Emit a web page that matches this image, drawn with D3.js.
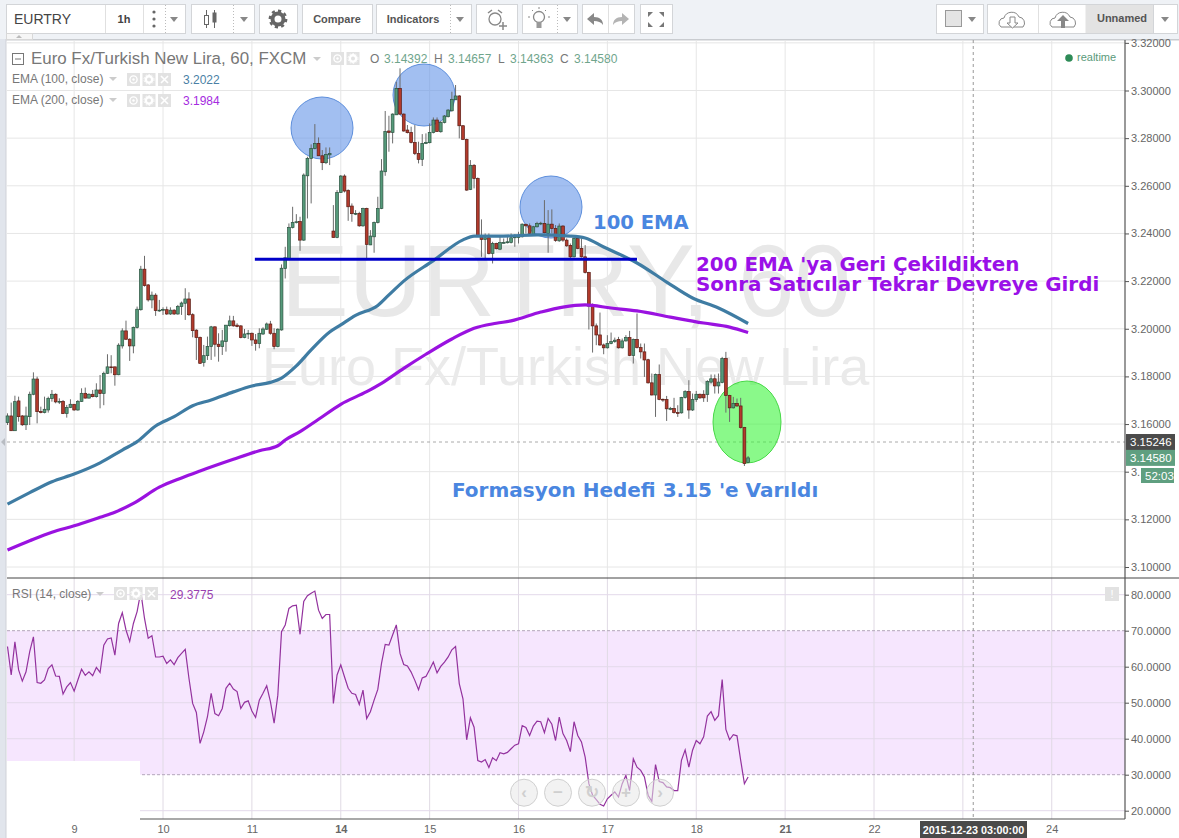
<!DOCTYPE html>
<html><head><meta charset="utf-8"><style>
html,body{margin:0;padding:0;background:#fff;overflow:hidden}
svg{display:block}
text{font-family:"Liberation Sans",Arial,sans-serif}
</style>
<script src="https://cdnjs.cloudflare.com/ajax/libs/d3/7.8.5/d3.min.js"></script></head><body>
<svg id="c" width="1179" height="838"></svg>
<script>
// open, high, low, close per hourly bar
const ohlcRows=[
[3.1606,3.1645,3.1596,3.1634],[3.1634,3.1690,3.1572,3.1572],[3.1572,3.1719,3.1572,3.1694],[3.1697,3.1715,3.1610,3.1631],[3.1634,3.1638,3.1592,3.1597],
[3.1597,3.1673,3.1575,3.1634],[3.1631,3.1736,3.1596,3.1725],[3.1725,3.1817,3.1721,3.1789],[3.1789,3.1799,3.1603,3.1652],[3.1653,3.1673,3.1645,3.1648],
[3.1648,3.1715,3.1645,3.1662],[3.1659,3.1715,3.1648,3.1708],[3.1707,3.1743,3.1694,3.1725],[3.1725,3.1729,3.1687,3.1693],[3.1694,3.1708,3.1684,3.1695],
[3.1695,3.1701,3.1642,3.1644],[3.1644,3.1680,3.1627,3.1670],[3.1670,3.1704,3.1667,3.1683],[3.1683,3.1684,3.1656,3.1659],[3.1659,3.1701,3.1656,3.1695],
[3.1695,3.1750,3.1693,3.1729],[3.1729,3.1753,3.1707,3.1709],[3.1709,3.1729,3.1707,3.1725],[3.1725,3.1743,3.1712,3.1715],[3.1715,3.1771,3.1711,3.1743],
[3.1743,3.1806,3.1666,3.1728],[3.1728,3.1820,3.1679,3.1813],[3.1813,3.1893,3.1810,3.1840],[3.1840,3.1889,3.1813,3.1838],[3.1840,3.1841,3.1761,3.1807],
[3.1807,3.1939,3.1805,3.1931],[3.1928,3.2002,3.1917,3.1991],[3.1991,3.2034,3.1953,3.1956],[3.1956,3.1960,3.1865,3.1928],[3.1928,3.2009,3.1897,3.2006],
[3.2005,3.2093,3.2001,3.2082],[3.2080,3.2264,3.2076,3.2250],[3.2250,3.2306,3.2177,3.2181],[3.2184,3.2187,3.2114,3.2121],[3.2121,3.2156,3.2086,3.2141],
[3.2141,3.2149,3.2054,3.2076],[3.2077,3.2121,3.2071,3.2078],[3.2080,3.2090,3.2058,3.2081],[3.2080,3.2093,3.2058,3.2062],[3.2062,3.2090,3.2058,3.2078],
[3.2078,3.2082,3.2058,3.2062],[3.2062,3.2100,3.2059,3.2094],[3.2093,3.2114,3.2058,3.2108],[3.2107,3.2170,3.2037,3.2125],[3.2125,3.2153,3.2054,3.2059],
[3.2059,3.2065,3.1964,3.1992],[3.1994,3.1998,3.1869,3.1963],[3.1964,3.1967,3.1852,3.1855],[3.1858,3.1932,3.1841,3.1887],[3.1887,3.1967,3.1869,3.1926],
[3.1925,3.2012,3.1869,3.2008],[3.2008,3.2010,3.1883,3.1935],[3.1935,3.1981,3.1862,3.1925],[3.1925,3.1995,3.1890,3.1949],[3.1946,3.2016,3.1904,3.2015],
[3.2013,3.2055,3.2009,3.2033],[3.2033,3.2054,3.2009,3.2012],[3.2015,3.2023,3.2006,3.2009],[3.2012,3.2015,3.1960,3.1963],[3.1963,3.1999,3.1960,3.1978],
[3.1980,3.1995,3.1957,3.1981],[3.1981,3.1984,3.1928,3.1953],[3.1953,3.1978,3.1908,3.1938],[3.1938,3.2002,3.1918,3.1981],[3.1978,3.2006,3.1974,3.1999],
[3.1998,3.2026,3.1995,3.2020],[3.2020,3.2033,3.1975,3.1981],[3.1981,3.2002,3.1914,3.1925],[3.1925,3.2002,3.1922,3.1998],[3.1995,3.2270,3.1992,3.2254],
[3.2253,3.2344,3.2211,3.2298],[3.2295,3.2442,3.2288,3.2425],[3.2425,3.2512,3.2421,3.2446],[3.2447,3.2481,3.2442,3.2449],[3.2450,3.2470,3.2327,3.2372],
[3.2372,3.2652,3.2369,3.2645],[3.2642,3.2722,3.2463,3.2715],[3.2715,3.2774,3.2526,3.2757],[3.2757,3.2859,3.2753,3.2778],[3.2778,3.2803,3.2725,3.2726],
[3.2726,3.2750,3.2666,3.2697],[3.2697,3.2761,3.2691,3.2732],[3.2730,3.2761,3.2687,3.2735],[3.2410,3.2519,3.2383,3.2383],[3.2383,3.2582,3.2380,3.2572],
[3.2572,3.2645,3.2570,3.2641],[3.2641,3.2648,3.2572,3.2578],[3.2581,3.2585,3.2453,3.2512],[3.2515,3.2526,3.2449,3.2483],[3.2483,3.2498,3.2477,3.2484],
[3.2484,3.2491,3.2428,3.2432],[3.2432,3.2508,3.2428,3.2505],[3.2505,3.2508,3.2288,3.2354],[3.2352,3.2414,3.2351,3.2389],[3.2386,3.2450,3.2319,3.2446],
[3.2446,3.2554,3.2442,3.2505],[3.2505,3.2712,3.2502,3.2662],[3.2659,3.2914,3.2642,3.2828],[3.2830,3.2894,3.2743,3.2824],[3.2824,3.2904,3.2778,3.2901],
[3.2898,3.3037,3.2897,3.3009],[3.3009,3.3093,3.2897,3.2901],[3.2901,3.2904,3.2827,3.2830],[3.2834,3.2855,3.2820,3.2823],[3.2824,3.2848,3.2778,3.2782],
[3.2782,3.2855,3.2729,3.2736],[3.2736,3.2785,3.2694,3.2711],[3.2711,3.2817,3.2683,3.2778],[3.2778,3.2820,3.2775,3.2782],[3.2781,3.2862,3.2778,3.2824],
[3.2824,3.2887,3.2820,3.2876],[3.2876,3.2887,3.2826,3.2828],[3.2827,3.2872,3.2823,3.2866],[3.2866,3.2897,3.2862,3.2893],[3.2890,3.2921,3.2887,3.2918],
[3.2915,3.2995,3.2911,3.2963],[3.2961,3.3023,3.2960,3.2977],[3.2977,3.2981,3.2799,3.2852],[3.2852,3.2855,3.2792,3.2795],[3.2795,3.2798,3.2579,3.2582],
[3.2585,3.2708,3.2582,3.2686],[3.2686,3.2691,3.2589,3.2631],[3.2631,3.2635,3.2386,3.2389],[3.2386,3.2459,3.2302,3.2375],[3.2375,3.2400,3.2288,3.2382],
[3.2382,3.2400,3.2312,3.2316],[3.2316,3.2365,3.2274,3.2358],[3.2358,3.2361,3.2333,3.2336],[3.2334,3.2386,3.2330,3.2362],[3.2361,3.2379,3.2358,3.2362],
[3.2361,3.2393,3.2358,3.2365],[3.2362,3.2400,3.2358,3.2382],[3.2382,3.2397,3.2344,3.2386],[3.2385,3.2407,3.2358,3.2386],[3.2386,3.2442,3.2383,3.2439],
[3.2438,3.2442,3.2400,3.2432],[3.2432,3.2442,3.2397,3.2400],[3.2397,3.2432,3.2393,3.2428],[3.2428,3.2449,3.2425,3.2442],[3.2442,3.2449,3.2435,3.2443],
[3.2442,3.2540,3.2400,3.2403],[3.2400,3.2498,3.2319,3.2439],[3.2439,3.2501,3.2400,3.2421],[3.2421,3.2435,3.2365,3.2371],[3.2369,3.2442,3.2365,3.2431],
[3.2431,3.2435,3.2365,3.2372],[3.2372,3.2379,3.2344,3.2348],[3.2350,3.2358,3.2295,3.2302],[3.2302,3.2383,3.2299,3.2379],[3.2379,3.2386,3.2334,3.2337],
[3.2337,3.2379,3.2299,3.2302],[3.2302,3.2351,3.2232,3.2236],[3.2236,3.2239,3.1997,3.2095],[3.2095,3.2106,3.1900,3.2012],[3.2012,3.2022,3.1931,3.1974],
[3.1974,3.2068,3.1928,3.1932],[3.1932,3.1938,3.1893,3.1920],[3.1920,3.1973,3.1917,3.1938],[3.1938,3.1984,3.1935,3.1946],[3.1946,3.1963,3.1941,3.1952],
[3.1955,3.1966,3.1917,3.1920],[3.1920,3.1959,3.1917,3.1949],[3.1949,3.1973,3.1946,3.1963],[3.1963,3.1991,3.1885,3.1888],[3.1888,3.1959,3.1854,3.1955],
[3.1955,3.2064,3.1917,3.1921],[3.1921,3.1938,3.1875,3.1903],[3.1903,3.1938,3.1798,3.1869],[3.1870,3.1874,3.1770,3.1773],[3.1773,3.1812,3.1720,3.1722],
[3.1722,3.1812,3.1630,3.1808],[3.1808,3.1850,3.1700,3.1703],[3.1704,3.1707,3.1693,3.1701],[3.1703,3.1718,3.1613,3.1664],[3.1664,3.1672,3.1658,3.1665],
[3.1665,3.1710,3.1644,3.1648],[3.1648,3.1679,3.1630,3.1645],[3.1647,3.1714,3.1644,3.1711],[3.1711,3.1742,3.1707,3.1736],[3.1736,3.1784,3.1622,3.1659],
[3.1659,3.1728,3.1655,3.1703],[3.1703,3.1739,3.1693,3.1725],[3.1725,3.1728,3.1706,3.1710],[3.1725,3.1742,3.1693,3.1710],[3.1724,3.1784,3.1693,3.1778],
[3.1776,3.1808,3.1770,3.1790],[3.1790,3.1808,3.1728,3.1760],[3.1760,3.1812,3.1728,3.1776],[3.1774,3.1882,3.1771,3.1875],[3.1875,3.1903,3.1648,3.1720],
[3.1720,3.1723,3.1609,3.1668],[3.1668,3.1714,3.1665,3.1686],[3.1686,3.1707,3.1672,3.1676],[3.1676,3.1710,3.1581,3.1585],[3.1585,3.1588,3.1424,3.1434],
[3.14392,3.14657,3.14363,3.14580]];

const ema100Bars=[0,6,12,18,25,31,35,40,45,50,55,61,66,71,74,78,82,87,90,94,100,103,107,115,123,126,134,143,152,156,161,170,178,185,192,200];
const ema100=[3.1264,3.1312,3.1358,3.1390,3.1437,3.1491,3.1526,3.1592,3.1631,3.1677,3.1701,3.1735,3.1760,3.1775,3.1793,3.1844,3.1911,3.1986,3.2016,3.2056,3.2098,3.2142,3.2200,3.2286,3.2373,3.2389,3.2389,3.2394,3.2389,3.2381,3.2343,3.2276,3.2196,3.2129,3.2087,3.2022];
const ema200Bars=[0,6,12,18,25,29,34,41,47,52,61,68,73,75,79,84,90,97,101,107,113,120,126,132,136,144,150,156,163,170,179,188,195,200];
const ema200=[3.1071,3.1110,3.1146,3.1173,3.1209,3.1230,3.1267,3.1335,3.1374,3.1403,3.1452,3.1488,3.1509,3.1533,3.1568,3.1620,3.1683,3.1736,3.1771,3.1834,3.1893,3.1957,3.2002,3.2023,3.2033,3.2070,3.2091,3.2100,3.2087,3.2075,3.2049,3.2024,3.2007,3.1984];

const rsiValues=[65.6,57.7,66.9,59.1,56.0,58.6,64.2,68.3,55.6,55.4,56.3,59.5,60.5,57.4,57.3,52.4,54.4,55.6,53.2,56.3,
59.3,57.6,58.6,57.5,59.8,58.4,66.0,67.7,68.0,63.2,72.0,75.0,70.2,67.0,72.0,75.3,80.8,73.4,67.9,68.6,
62.7,62.7,62.9,60.9,61.9,60.6,62.5,63.7,64.8,56.8,49.8,47.3,38.7,41.9,46.1,52.6,47.0,46.4,48.4,54.0,
55.4,53.8,53.1,48.4,50.1,50.5,47.7,45.9,50.7,52.6,54.7,50.3,44.3,52.1,69.7,71.6,76.2,76.9,77.1,69.0,
78.1,79.7,80.4,81.0,75.7,73.4,74.5,74.5,49.8,57.7,60.5,57.2,54.0,52.6,52.3,49.5,53.5,45.6,47.5,50.7,
53.7,60.9,66.2,66.0,68.8,71.6,63.7,60.6,60.2,58.5,56.2,53.6,56.9,57.3,59.2,61.3,58.3,60.1,61.3,62.7,
64.7,65.6,55.3,51.1,39.7,45.8,43.2,33.9,33.5,34.2,32.0,34.7,33.9,36.1,35.8,36.2,37.2,38.2,38.6,43.6,
43.1,40.9,43.5,44.9,44.7,41.7,45.6,44.0,39.5,46.0,41.4,39.5,36.4,44.7,40.9,39.1,34.9,27.5,24.3,23.1,
21.8,21.3,23.3,24.3,25.2,23.8,27.5,29.8,25.6,34.4,32.1,31.2,29.4,24.3,22.6,32.8,28.1,27.8,26.6,26.4,
25.6,25.6,34.0,36.9,32.1,36.8,39.5,38.6,40.5,46.3,47.5,45.1,46.4,56.4,42.6,39.7,41.1,40.8,34.0,27.5,29.38];

const priceTicks=[3.32,3.30,3.28,3.26,3.24,3.22,3.20,3.18,3.16,3.14,3.12,3.10];
const rsiTicks=[80,70,60,50,40,30,20];
const dayBars=[18,42,66,90,114,138,162,186,210,234,258,282];
const dayLabels=["9","10","11","14","15","16","17","18","21","22","","24"];
const boldDays=["14","21"];
const necklinePrice=3.2292, necklineBars=[66.8,170];
const crossBar=260.8, crossPrice=3.15246, lastPrice=3.14580;

const svg=d3.select("#c");
const x=d3.scaleLinear().domain([0,300]).range([7.5,7.5+3.703*300]);
const y=d3.scaleLinear().domain([3.30,3.10]).range([90.5,567]);
const r=d3.scaleLinear().domain([70,30]).range([630.7,774.7]);
const L=7,R=1125,T=40,S=578,B=819;

svg.append("rect").attr("width",1179).attr("height",838).attr("fill","#fff");
svg.append("rect").attr("width",1179).attr("height",39).attr("fill","#eff2f6");
svg.append("rect").attr("y",39).attr("width",1179).attr("height",1.5).attr("fill","#c9ccd0");
svg.append("rect").attr("y",39).attr("width",6).attr("height",799).attr("fill","#e1e5ec");
svg.append("rect").attr("x",5.5).attr("y",39).attr("width",1).attr("height",799).attr("fill","#cfd2d8");

// RSI band
svg.append("rect").attr("x",L).attr("width",R-L).attr("y",r(70)).attr("height",r(30)-r(70)).attr("fill","#f6e6fe");

// grids
const grid="#e6e6e6";
const g=svg.append("g");
g.selectAll(".v").data(dayBars).join("line").attr("x1",d=>x(d)).attr("x2",d=>x(d)).attr("y1",T).attr("y2",S).attr("stroke",grid);
g.selectAll(".v2").data(dayBars).join("line").attr("x1",d=>x(d)).attr("x2",d=>x(d)).attr("y1",S).attr("y2",B).attr("stroke","#e0dae4");
g.selectAll(".h").data(priceTicks).join("line").attr("x1",L).attr("x2",R).attr("y1",d=>y(d)).attr("y2",d=>y(d)).attr("stroke",grid);
g.selectAll(".r").data(rsiTicks.filter(d=>d!==70&&d!==30)).join("line").attr("x1",L).attr("x2",R).attr("y1",d=>r(d)).attr("y2",d=>r(d)).attr("stroke","#e3d9ea");
[70,30].forEach(v=>g.append("line").attr("x1",L).attr("x2",R).attr("y1",r(v)).attr("y2",r(v)).attr("stroke","#b3a6ba").attr("stroke-dasharray","3 2"));

// watermark
svg.append("text").attr("x",281).attr("y",316).attr("font-size",101.5).attr("fill","#e8e8e8").text("EURTRY, 60");
svg.append("text").attr("x",262).attr("y",385).attr("font-size",54).attr("fill","#eaeaea").text("Euro Fx/Turkish New Lira");

// crosshair
svg.append("line").attr("x1",x(crossBar)).attr("x2",x(crossBar)).attr("y1",T).attr("y2",B).attr("stroke","#999").attr("stroke-dasharray","3 3");
svg.append("line").attr("x1",L).attr("x2",R).attr("y1",y(crossPrice)).attr("y2",y(crossPrice)).attr("stroke","#aaa").attr("stroke-dasharray","3 3");
svg.append("path").attr("d",`M1 ${y(crossPrice)}l4-4v8z`).attr("fill","#b8bcc2");

// drawings below the candles
[[322,128,31,31],[424,95,31,31],[551,207,31,31]].forEach(c=>svg.append("ellipse").attr("cx",c[0]).attr("cy",c[1]).attr("rx",c[2]).attr("ry",c[3]).attr("fill","rgba(100,148,232,.6)").attr("stroke","#5e8fdc"));
svg.append("ellipse").attr("cx",747).attr("cy",422).attr("rx",34).attr("ry",41).attr("fill","rgba(60,245,60,.6)").attr("stroke","#48d848");

// candles
const cg=svg.append("g");
const up=d=>d[3]>=d[0];
cg.selectAll(".w").data(ohlcRows).join("line").attr("x1",(d,i)=>x(i)).attr("x2",(d,i)=>x(i))
 .attr("y1",d=>y(d[1])).attr("y2",d=>y(d[2])).attr("stroke","#6b6b6b").attr("stroke-width",1);
cg.selectAll(".b").data(ohlcRows).join("rect")
 .attr("x",(d,i)=>x(i)-1.4).attr("width",2.8)
 .attr("y",d=>y(Math.max(d[0],d[3]))).attr("height",d=>Math.max(0.8,Math.abs(y(d[0])-y(d[3]))))
 .attr("fill",d=>up(d)?"#559a7a":"#b23a2c").attr("stroke",d=>up(d)?"#2c5240":"#5a1c14").attr("stroke-width",.7);

// EMA
const ln=d3.line().x(d=>x(d[0])).y(d=>y(d[1])).curve(d3.curveMonotoneX);
svg.append("path").attr("d",ln(d3.zip(ema100Bars,ema100))).attr("fill","none").attr("stroke","#3f7ca3").attr("stroke-width",3.2);
svg.append("path").attr("d",ln(d3.zip(ema200Bars,ema200))).attr("fill","none").attr("stroke","#9a12e0").attr("stroke-width",3.2);

// RSI line
const rl=d3.line().x((d,i)=>x(i)).y(d=>r(d));
svg.append("path").attr("d",rl(rsiValues)).attr("fill","none").attr("stroke","#93329e").attr("stroke-width",1.2);

// neckline and notes
svg.append("line").attr("x1",x(necklineBars[0])).attr("x2",x(necklineBars[1])).attr("y1",y(necklinePrice)).attr("y2",y(necklinePrice)).attr("stroke","#0000c8").attr("stroke-width",3);
const ann=(t,xx,yy,c,fs)=>svg.append("text").attr("x",xx).attr("y",yy).attr("fill",c).attr("font-size",fs).attr("font-weight","bold").style("font-family","'DejaVu Sans'").text(t);
ann("100 EMA",593,229,"#4a86e0",19.6);
ann("200 EMA 'ya Geri Çekildikten",696,271,"#9a10e8",19.9);
ann("Sonra Satıcılar Tekrar Devreye Girdi",696,291,"#9a10e8",19.9);
ann("Formasyon Hedefi 3.15 'e Varıldı",452,497,"#4a86e0",20);

// white patch on RSI pane
svg.append("rect").attr("x",L).attr("y",761).attr("width",133).attr("height",58.6).attr("fill","#fff");

// axes frame
svg.append("line").attr("x1",L).attr("x2",1179).attr("y1",S).attr("y2",S).attr("stroke","#444").attr("stroke-width",1);
svg.append("line").attr("x1",140).attr("x2",R).attr("y1",B).attr("y2",B).attr("stroke","#555").attr("stroke-width",1.2);
svg.append("line").attr("x1",R).attr("x2",R).attr("y1",T).attr("y2",B).attr("stroke","#555").attr("stroke-width",1.2);

function styleAxis(sel){sel.select(".domain").remove();sel.selectAll("line").attr("stroke","#555");
 sel.selectAll("text").attr("fill","#666").attr("font-size",11).style("font-family","'Liberation Sans'");}
const priceFmt=d=>d===3.14?"3.":d3.format(".5f")(d); // the rest of this label sits under the countdown tag
svg.append("g").attr("transform",`translate(${R},0)`).call(d3.axisRight(y).tickValues(priceTicks).tickFormat(priceFmt).tickSize(4).tickPadding(2)).call(styleAxis);
svg.append("g").attr("transform",`translate(${R},0)`).call(d3.axisRight(r).tickValues(rsiTicks).tickFormat(d3.format(".4f")).tickSize(4).tickPadding(2)).call(styleAxis);
svg.append("g").attr("transform",`translate(0,${B-1})`).call(d3.axisBottom(x).tickValues(dayBars).tickFormat((d,i)=>dayLabels[i]).tickSize(0).tickPadding(7)).call(styleAxis)
 .selectAll("text").attr("font-weight",d=>boldDays.includes(dayLabels[dayBars.indexOf(d)])?"bold":"normal");

// axis tags
function tag(xx,yy,w,h,c,t,tx){svg.append("rect").attr("x",xx).attr("y",yy).attr("width",w).attr("height",h).attr("fill",c);
 svg.append("text").attr("x",tx).attr("y",yy+h/2+4).attr("fill","#fff").attr("font-size",11.5).text(t);}
tag(R+1,y(crossPrice)-8,49,16,"#4b4b4b",d3.format(".5f")(crossPrice),R+5);
tag(R+1,y(lastPrice)-8,49,16,"#5f9f80",d3.format(".5f")(lastPrice),R+5);
tag(1141,468,33,15,"#5f9f80","52:03",1145);
svg.append("rect").attr("x",920).attr("y",821).attr("width",107).attr("height",17).attr("fill","#4a4a4a");
svg.append("text").attr("x",973.5).attr("y",833.5).attr("text-anchor","middle").attr("fill","#fff").attr("font-size",10.8).attr("font-weight","bold").text("2015-12-23 03:00:00");

// legends
const txt=(t,xx,yy,c,fs,an)=>svg.append("text").attr("x",xx).attr("y",yy).attr("fill",c).attr("font-size",fs).attr("text-anchor",an||"start").text(t);
const tri=(xx,yy,c)=>svg.append("path").attr("d",`M${xx} ${yy}h8l-4 4z`).attr("fill",c||"#ccc");
function boxes(x0,yy,n){for(let k=0;k<n;k++){const bx=x0+k*15.5;
 svg.append("rect").attr("x",bx).attr("y",yy).attr("width",13).attr("height",13).attr("fill","#e2e2e2");
 if(k===0){svg.append("circle").attr("cx",bx+6.5).attr("cy",yy+6.5).attr("r",3.6).attr("fill","none").attr("stroke","#fff").attr("stroke-width",1.4);
  svg.append("circle").attr("cx",bx+6.5).attr("cy",yy+6.5).attr("r",1.2).attr("fill","#fff");}
 if(k===1){svg.append("circle").attr("cx",bx+6.5).attr("cy",yy+6.5).attr("r",3.2).attr("fill","none").attr("stroke","#fff").attr("stroke-width",2.4);
  svg.append("circle").attr("cx",bx+6.5).attr("cy",yy+6.5).attr("r",5).attr("fill","none").attr("stroke","#fff").attr("stroke-width",1).attr("stroke-dasharray","1.6 1.6");}
 if(k===2){svg.append("path").attr("d",`M${bx+3} ${yy+3}l7 7M${bx+10} ${yy+3}l-7 7`).attr("stroke","#fff").attr("stroke-width",1.6);}
}}
svg.append("rect").attr("x",12.5).attr("y",53.5).attr("width",11).attr("height",11).attr("fill","none").attr("stroke","#777");
svg.append("line").attr("x1",15).attr("x2",21).attr("y1",59).attr("y2",59).attr("stroke","#777");
txt("Euro Fx/Turkish New Lira, 60, FXCM",31,64,"#777",16.9);
tri(313,57);boxes(331,52,2);
const green="#6fa58c";
[["O",370,"3.14392",384],["H",434,"3.14657",448],["L",498,"3.14363",510],["C",560,"3.14580",574]].forEach(a=>{txt(a[0],a[1],63,"#777",12);txt(a[2],a[3],63,green,12);});
txt("EMA (100, close)",12,83,"#777",12);tri(109,77);boxes(127,73,3);txt("3.2022",183,84,"#4a7fa5",12);
txt("EMA (200, close)",12,104,"#777",12);tri(109,98);boxes(127,94,3);txt("3.1984",183,105,"#a52be0",12);
txt("RSI (14, close)",12,598,"#777",12);tri(96,592);boxes(114,587,3);txt("29.3775",170,599,"#9a3fb0",12);
svg.append("circle").attr("cx",1069).attr("cy",58).attr("r",3.8).attr("fill","#2e8b57");
txt("realtime",1077,61,"#5a9a7a",11);
svg.append("rect").attr("x",1105).attr("y",587).attr("width",14).attr("height",14).attr("fill","#e2e2e2");
txt("!",1112,598,"#fff",11,"middle");

// navigation buttons
const nav=[524,558,592,626,660],navT=["‹","−","↻","+","›"];
nav.forEach((n,i)=>{svg.append("circle").attr("cx",n).attr("cy",792.7).attr("r",13.5).attr("fill","rgba(232,232,232,.55)").attr("stroke","#d0d0d0");
 txt(navT[i],n,798,"#cfcfcf",17,"middle").attr("font-weight","bold");});

// toolbar
const btn=(a,b,fill)=>svg.append("rect").attr("x",a+.5).attr("y",4.5).attr("width",b-a).attr("height",29).attr("fill",fill||"#fff").attr("stroke","#d3d5d8");
const sep=(a,dash)=>svg.append("line").attr("x1",a+.5).attr("x2",a+.5).attr("y1",5).attr("y2",33).attr("stroke",dash?"#bbb":"#e0e0e0").attr("stroke-dasharray",dash?"1 2":null);
const dd=(xx)=>svg.append("path").attr("d",`M${xx} 17h8l-4 5z`).attr("fill","#888");
btn(6,185);sep(105);sep(143);sep(165,true);txt("EURTRY",14,24,"#444",14);txt("1h",124,23,"#444",11,"middle").attr("font-weight","bold");
[12,19,26].forEach(v=>svg.append("circle").attr("cx",154).attr("cy",v).attr("r",1.6).attr("fill","#666"));dd(170);
btn(191,254);sep(233,true);dd(240);
svg.append("line").attr("x1",206.5).attr("x2",206.5).attr("y1",10).attr("y2",28).attr("stroke","#666");
svg.append("line").attr("x1",214.5).attr("x2",214.5).attr("y1",10).attr("y2",28).attr("stroke","#666");
svg.append("rect").attr("x",204.5).attr("y",15.5).attr("width",4).attr("height",9).attr("fill","#fff").attr("stroke","#666");
svg.append("rect").attr("x",212.5).attr("y",12.5).attr("width",4).attr("height",10).attr("fill","#666");
btn(259,297);
svg.append("circle").attr("cx",278).attr("cy",19).attr("r",5.5).attr("fill","none").attr("stroke","#666").attr("stroke-width",4);
svg.append("circle").attr("cx",278).attr("cy",19).attr("r",8.2).attr("fill","none").attr("stroke","#666").attr("stroke-width",2.4).attr("stroke-dasharray","3.2 3.2");
btn(302,372);txt("Compare",337,23,"#555",11,"middle").attr("font-weight","bold");
btn(376,471);sep(450,true);txt("Indicators",413,23,"#555",11,"middle").attr("font-weight","bold");dd(456);
btn(476,517);
svg.append("circle").attr("cx",495).attr("cy",19).attr("r",6).attr("fill","none").attr("stroke","#888").attr("stroke-width",1.3);
svg.append("path").attr("d","M503 22v8M499 26h8").attr("stroke","#888").attr("stroke-width",1.5);
svg.append("path").attr("d","M488 13l4-3M502 13l-4-3").attr("stroke","#888").attr("stroke-width",1.5);
btn(522,577);sep(557,true);dd(563);
svg.append("circle").attr("cx",539).attr("cy",17).attr("r",5.5).attr("fill","none").attr("stroke","#888").attr("stroke-width",1.3);
svg.append("rect").attr("x",536.5).attr("y",22).attr("width",5).attr("height",6).attr("fill","#999");
svg.append("path").attr("d","M539 7v2M530 17h-2M548 17h2M532 10l1 1M546 10l-1 1").attr("stroke","#888");
btn(582,634);sep(608);
svg.append("path").attr("d","M587 19l7-6v4c6 0 9 3 9 8c-2-3-5-4-9-4v4z").attr("fill","#888");
svg.append("path").attr("d","M629 19l-7-6v4c-6 0-9 3-9 8c2-3 5-4 9-4v4z").attr("fill","#b4b4b4");
btn(640,672);
svg.append("path").attr("d","M648 12h5l-5 5zM664 12h-5l5 5zM648 27h5l-5-5zM664 27h-5l5-5z").attr("fill","#777");
svg.append("rect").attr("x",6.5).attr("y",33.5).attr("width",26).attr("height",6).attr("fill","#f6f6f6").attr("stroke","#d8d8d8");
svg.append("path").attr("d","M16 38h6l-3-3z").attr("fill","#bbb");
btn(936,983);svg.append("rect").attr("x",945.5).attr("y",10.5).attr("width",16).attr("height",16).attr("fill","#e4e4e4").attr("stroke","#999");dd(968);
btn(987,1177);sep(1038);
svg.append("rect").attr("x",1085.5).attr("y",5).attr("width",68).attr("height",28).attr("fill","#e3e3e3");
svg.append("line").attr("x1",1153.5).attr("x2",1153.5).attr("y1",5).attr("y2",33).attr("stroke","#d3d5d8");
txt("Unnamed",1122,22,"#555",11,"middle").attr("font-weight","bold");dd(1161);
const cloud="a5 5 0 0 1 3-9a8 8 0 0 1 15-1a6 6 0 0 1 4 10z";
svg.append("path").attr("d","M1001 27"+cloud).attr("fill","none").attr("stroke","#888");
svg.append("path").attr("d","M1010 17h5v6h3l-5.500 5l-5.500-5h3z").attr("fill","#fff").attr("stroke","#888");
svg.append("path").attr("d","M1052 27"+cloud).attr("fill","none").attr("stroke","#888");
svg.append("path").attr("d","M1061 28v-7h-4l6-6l6 6h-4v7z").attr("fill","#888");
</script></body></html>
